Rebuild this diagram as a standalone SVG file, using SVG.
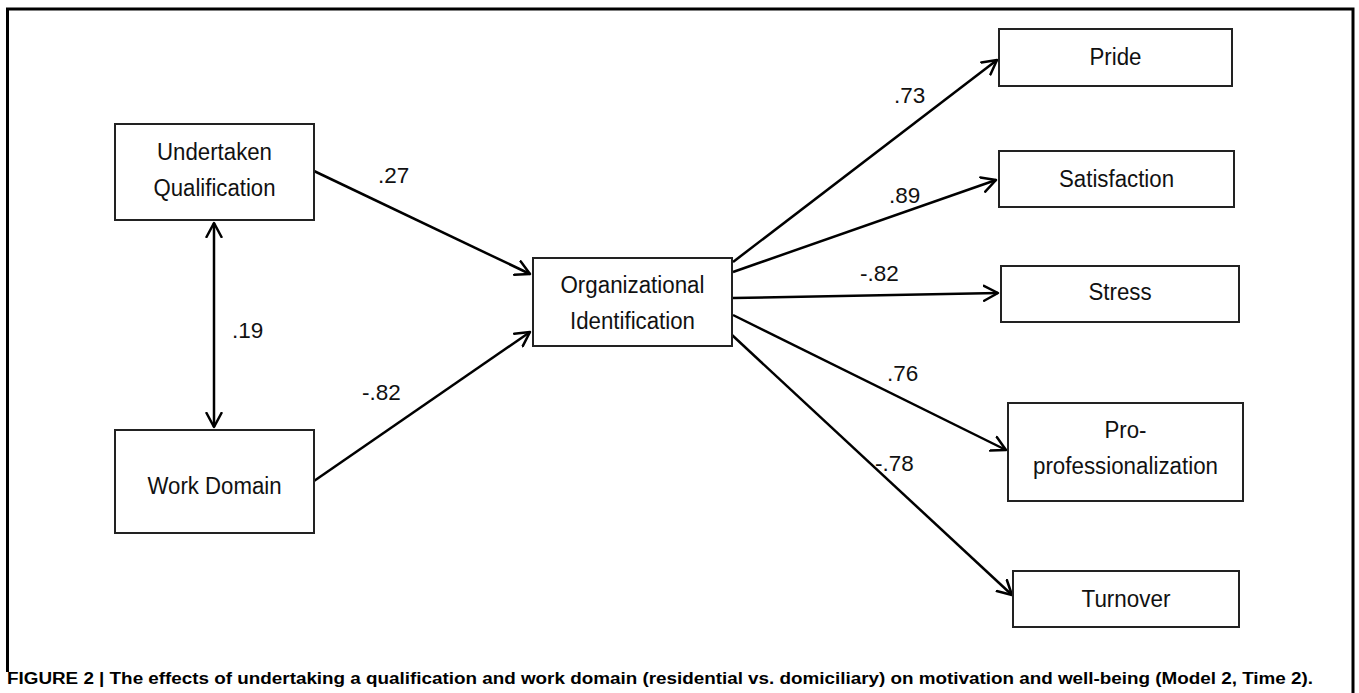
<svg xmlns="http://www.w3.org/2000/svg" width="1359" height="693" viewBox="0 0 1359 693">
<style>
  .box { fill: #fff; stroke: #222; stroke-width: 2; }
  .t { font-family: "Liberation Sans", Arial, sans-serif; font-size: 23.5px; fill: #111; text-anchor: middle; }
  .lbl { font-family: "Liberation Sans", Arial, sans-serif; font-size: 22.5px; fill: #111; }
  .edge { fill: none; stroke: #000; stroke-width: 2.5; }
  .cap { font-family: "Liberation Sans", Arial, sans-serif; font-size: 16px; font-weight: bold; fill: #000; }
</style>
<defs>
  <marker id="arr" viewBox="-1 -9 17 18" refX="14" refY="0" markerWidth="17" markerHeight="18" markerUnits="userSpaceOnUse" orient="auto-start-reverse">
    <path d="M0,-7.5 L14,0 L0,7.5" fill="none" stroke="#000" stroke-width="2.5" stroke-linejoin="round" stroke-linecap="round"/>
  </marker>
</defs>
<rect width="1359" height="693" fill="#fff"/>
<path d="M7.5,672 V9 H1353 V693" fill="none" stroke="#000" stroke-width="3"/>

<g id="connectors">
  <line class="edge" x1="314" y1="171" x2="530" y2="274" marker-end="url(#arr)"/>
  <line class="edge" x1="314" y1="481" x2="530" y2="332" marker-end="url(#arr)"/>
  <line class="edge" x1="214" y1="223" x2="214" y2="427" marker-start="url(#arr)" marker-end="url(#arr)"/>
  <line class="edge" x1="733" y1="262" x2="997" y2="60" marker-end="url(#arr)"/>
  <line class="edge" x1="733" y1="272" x2="996" y2="180" marker-end="url(#arr)"/>
  <line class="edge" x1="733" y1="298" x2="998" y2="293" marker-end="url(#arr)"/>
  <line class="edge" x1="733" y1="315" x2="1006" y2="450" marker-end="url(#arr)"/>
  <line class="edge" x1="732" y1="335" x2="1012" y2="595" marker-end="url(#arr)"/>
  <text class="lbl" x="378" y="183">.27</text>
  <text class="lbl" x="232" y="338">.19</text>
  <text class="lbl" x="362" y="400">-.82</text>
  <text class="lbl" x="894" y="103">.73</text>
  <text class="lbl" x="889" y="203">.89</text>
  <text class="lbl" x="860" y="281">-.82</text>
  <text class="lbl" x="887" y="381">.76</text>
  <text class="lbl" x="875" y="471">-.78</text>
</g>

<g id="undertaken-qualification">
  <rect class="box" x="115" y="124" width="199" height="96"/>
  <text class="t" x="214.5" y="160" textLength="115" lengthAdjust="spacingAndGlyphs">Undertaken</text>
  <text class="t" x="214.5" y="196" textLength="122" lengthAdjust="spacingAndGlyphs">Qualification</text>
</g>
<g id="work-domain">
  <rect class="box" x="115" y="430" width="199" height="103"/>
  <text class="t" x="214.5" y="494" textLength="134" lengthAdjust="spacingAndGlyphs">Work Domain</text>
</g>
<g id="organizational-identification">
  <rect class="box" x="533" y="258" width="199" height="88"/>
  <text class="t" x="632.5" y="293" textLength="144" lengthAdjust="spacingAndGlyphs">Organizational</text>
  <text class="t" x="632.5" y="329" textLength="125" lengthAdjust="spacingAndGlyphs">Identification</text>
</g>
<g id="pride">
  <rect class="box" x="999" y="29" width="233" height="57"/>
  <text class="t" x="1115.5" y="65" textLength="52" lengthAdjust="spacingAndGlyphs">Pride</text>
</g>
<g id="satisfaction">
  <rect class="box" x="999" y="151" width="235" height="56"/>
  <text class="t" x="1116.5" y="187" textLength="115" lengthAdjust="spacingAndGlyphs">Satisfaction</text>
</g>
<g id="stress">
  <rect class="box" x="1001" y="266" width="238" height="56"/>
  <text class="t" x="1120" y="300" textLength="63" lengthAdjust="spacingAndGlyphs">Stress</text>
</g>
<g id="pro-professionalization">
  <rect class="box" x="1008" y="403" width="235" height="98"/>
  <text class="t" x="1125.5" y="438" textLength="42" lengthAdjust="spacingAndGlyphs">Pro-</text>
  <text class="t" x="1125.5" y="474" textLength="185" lengthAdjust="spacingAndGlyphs">professionalization</text>
</g>
<g id="turnover">
  <rect class="box" x="1013" y="571" width="226" height="56"/>
  <text class="t" x="1126" y="607" textLength="89" lengthAdjust="spacingAndGlyphs">Turnover</text>
</g>

<text class="cap" x="7" y="684" textLength="1306" lengthAdjust="spacingAndGlyphs">FIGURE 2 | The effects of undertaking a qualification and work domain (residential vs. domiciliary) on motivation and well-being (Model 2, Time 2).</text>
</svg>
